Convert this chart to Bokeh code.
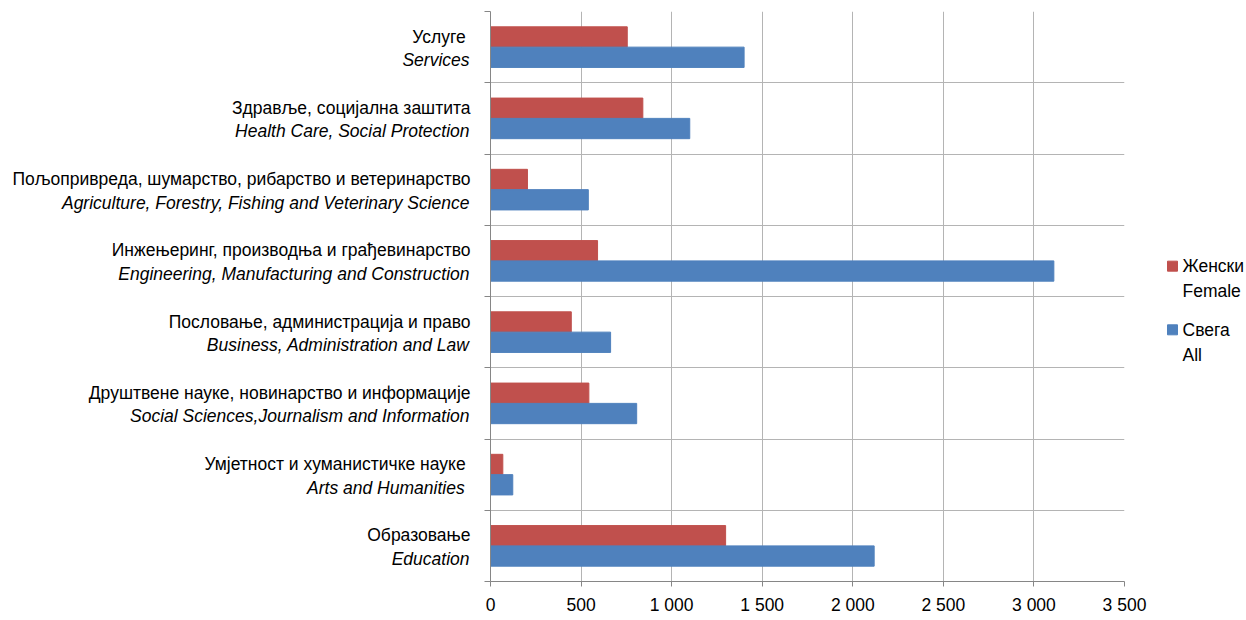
from bokeh.plotting import figure
from bokeh.layouts import row
from bokeh.models import FixedTicker, ColumnDataSource, Range1d
from bokeh.core.properties import value
from bokeh.embed import file_html
from bokeh.resources import INLINE

# Categories, bottom to top
cat_sr = [
    "Образовање",
    "Умјетност и хуманистичке науке ",
    "Друштвене науке, новинарство и информације",
    "Пословање, администрација и право",
    "Инжењеринг, производња и грађевинарство",
    "Пољопривреда, шумарство, рибарство и ветеринарство",
    "Здравље, социјална заштита",
    "Услуге ",
]
cat_en = [
    "Education",
    "Arts and Humanities ",
    "Social Sciences,Journalism and Information",
    "Business, Administration and Law",
    "Engineering, Manufacturing and Construction",
    "Agriculture, Forestry, Fishing and Veterinary Science",
    "Health Care, Social Protection",
    "Services",
]
female = [1298, 68, 543, 446, 591, 204, 841, 755]
total = [2118, 123, 807, 663, 3110, 540, 1100, 1400]
x_ticks = [0, 500, 1000, 1500, 2000, 2500, 3000, 3500]
series_sr = ["Женски", "Свега"]
series_en = ["Female", "All"]

RED = "#C0504D"
BLUE = "#4F81BD"
GRID = "#b4b4b4"
AXIS = "#868686"
FONT = "Liberation Sans"
FS = "17.5px"

H = 617
TOP = 11
BOTTOM = 33
FRAME_H = H - TOP - BOTTOM
LAB_W = 482
MAIN_W = 666
LEG_W = 1246 - LAB_W - MAIN_W
n = len(cat_sr)
bar_h = 0.285

def keep_trailing(s):
    # preserve a trailing space in SVG text
    return s[:-1] + "\u00a0" if s.endswith(" ") else s

y_range = Range1d(0, n)

# ---- main chart ----
src = ColumnDataSource(dict(
    yf=[i + 0.5 + bar_h / 2 for i in range(n)],
    yt=[i + 0.5 - bar_h / 2 for i in range(n)],
    female=female,
    total=total,
))

p = figure(width=MAIN_W, height=H, x_range=(0, 3500), y_range=y_range,
           output_backend="svg", toolbar_location=None,
           min_border_left=8, min_border_right=24,
           min_border_top=TOP, min_border_bottom=BOTTOM)
p.outline_line_color = None

p.hbar(y="yf", left=0, right="female", height=bar_h, source=src,
       fill_color=RED, line_color=RED)
p.hbar(y="yt", left=0, right="total", height=bar_h, source=src,
       fill_color=BLUE, line_color=BLUE)

p.xaxis.ticker = FixedTicker(ticks=x_ticks)
p.xaxis.major_label_overrides = {t: f"{t:,}".replace(",", " ") for t in x_ticks}
p.xaxis.major_label_text_font = FONT
p.xaxis.major_label_text_font_size = FS
p.xaxis.major_label_text_color = "#000000"
p.xaxis.axis_line_color = AXIS
p.xaxis.major_tick_line_color = AXIS
p.xaxis.major_tick_in = 0
p.xaxis.major_tick_out = 5
p.xaxis.minor_tick_line_color = None
p.xaxis.major_label_standoff = 8

y_ticks = list(range(n + 1))
p.yaxis.ticker = FixedTicker(ticks=y_ticks)
p.yaxis.major_label_overrides = {t: "" for t in y_ticks}
p.yaxis.major_label_text_color = None
p.yaxis.major_label_standoff = 0
p.yaxis.axis_line_color = AXIS
p.yaxis.major_tick_line_color = AXIS
p.yaxis.major_tick_in = 0
p.yaxis.major_tick_out = 6
p.yaxis.minor_tick_line_color = None

p.xgrid.ticker = FixedTicker(ticks=x_ticks)
p.ygrid.ticker = FixedTicker(ticks=y_ticks)
p.xgrid.grid_line_color = GRID
p.ygrid.grid_line_color = GRID

# ---- category labels panel ----
lab = figure(width=LAB_W, height=H, x_range=(0, 1), y_range=y_range,
             x_axis_type=None, y_axis_type=None,
             output_backend="svg", toolbar_location=None,
             min_border_left=0, min_border_right=0,
             min_border_top=TOP, min_border_bottom=BOTTOM)
lab.outline_line_color = None
lab.grid.visible = False
lsrc = ColumnDataSource(dict(
    x=[1] * n,
    y=[i + 0.5 for i in range(n)],
    sr=[keep_trailing(s) for s in cat_sr],
    en=[keep_trailing(s) for s in cat_en],
))
lab.text(x="x", y="y", text="sr", source=lsrc, x_offset=-12, y_offset=-10.5,
         text_align="right", text_baseline="middle",
         text_font=value(FONT), text_font_size=FS, text_color="#000000")
lab.text(x="x", y="y", text="en", source=lsrc, x_offset=-13, y_offset=13,
         text_align="right", text_baseline="middle",
         text_font=value(FONT), text_font_size=FS, text_font_style="italic",
         text_color="#000000")

# ---- legend panel (pixel coordinates measured from frame top) ----
leg = figure(width=LEG_W, height=H, x_range=(0, LEG_W), y_range=(FRAME_H, 0),
             x_axis_type=None, y_axis_type=None,
             output_backend="svg", toolbar_location=None,
             min_border_left=0, min_border_right=0,
             min_border_top=TOP, min_border_bottom=BOTTOM)
leg.outline_line_color = None
leg.grid.visible = False
gsrc = ColumnDataSource(dict(
    x=[24, 24],
    y=[267 - TOP, 331 - TOP],
    tx=[34, 34],
    color=[RED, BLUE],
    sr=series_sr,
    en=series_en,
))
leg.scatter(x="x", y="y", marker="square", size=10, color="color", source=gsrc)
leg.text(x="tx", y="y", text="sr", source=gsrc, text_baseline="middle",
         text_font=value(FONT), text_font_size=FS, text_color="#000000")
leg.text(x="tx", y="y", text="en", source=gsrc, y_offset=25, text_baseline="middle",
         text_font=value(FONT), text_font_size=FS, text_color="#000000")

layout = row(lab, p, leg)
open("out.html", "w").write(file_html(layout, INLINE))
